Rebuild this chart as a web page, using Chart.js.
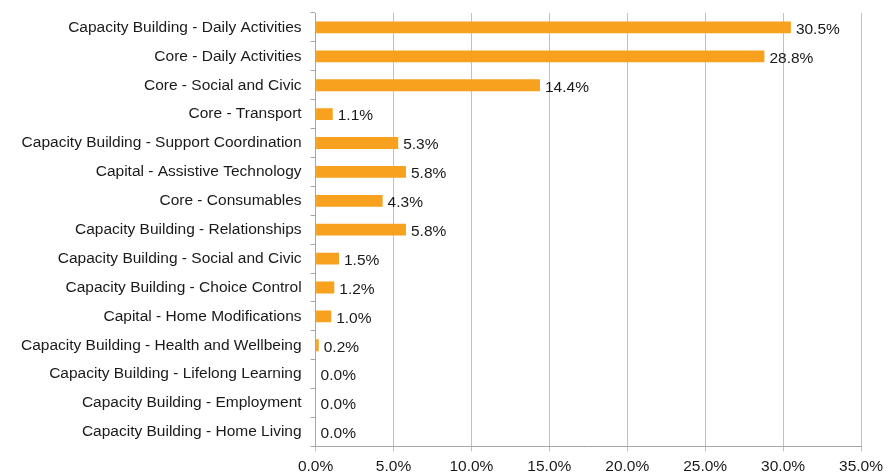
<!DOCTYPE html>
<html>
<head>
<meta charset="utf-8">
<script src="https://cdn.jsdelivr.net/npm/chart.js@4"></script>
<style>
  html, body { margin: 0; padding: 0; background: #fff; }
  #wrap { width: 893px; height: 474px; position: relative; }
</style>
</head>
<body>
<div id="wrap"><canvas id="chart"></canvas></div>
<script>
const categories = [
    "Capacity Building - Daily Activities",
    "Core - Daily Activities",
    "Core - Social and Civic",
    "Core - Transport",
    "Capacity Building - Support Coordination",
    "Capital - Assistive Technology",
    "Core - Consumables",
    "Capacity Building - Relationships",
    "Capacity Building - Social and Civic",
    "Capacity Building - Choice Control",
    "Capital - Home Modifications",
    "Capacity Building - Health and Wellbeing",
    "Capacity Building - Lifelong Learning",
    "Capacity Building - Employment",
    "Capacity Building - Home Living"
];
const shares = [30.5, 28.8, 14.4, 1.1, 5.3, 5.8, 4.3, 5.8, 1.5, 1.2, 1.0, 0.2, 0.0, 0.0, 0.0];
const xTicks = [0, 5, 10, 15, 20, 25, 30, 35];

const FONT = "Arial, \"Liberation Sans\", Helvetica, sans-serif";
const FONT_SIZE = 15.5;

// labels at the end of each bar
const valueLabels = {
    id: "valueLabels",
    afterDatasetsDraw(chart) {
        const ctx = chart.ctx;
        const meta = chart.getDatasetMeta(0);
        ctx.save();
        ctx.font = FONT_SIZE + "px " + FONT;
        ctx.fillStyle = "#1a1a1a";
        ctx.textBaseline = "middle";
        ctx.textAlign = "left";
        meta.data.forEach((bar, i) => {
            ctx.fillText(shares[i].toFixed(1) + "%", bar.x + 5, bar.y + 2);
        });
        ctx.restore();
    }
};

Chart.defaults.font.family = FONT;

new Chart(document.getElementById("chart"), {
    type: "bar",
    data: {
        labels: categories,
        datasets: [{
            data: shares,
            backgroundColor: "#F7A11E",
            borderWidth: 0,
            barPercentage: 0.41,
            categoryPercentage: 1.0
        }]
    },
    options: {
        indexAxis: "y",
        responsive: true,
        maintainAspectRatio: false,
        animation: false,
        layout: { padding: { top: 13, right: 32, bottom: -8, left: 12 } },
        plugins: {
            legend: { display: false },
            tooltip: { enabled: false }
        },
        scales: {
            x: {
                min: 0,
                max: 35,
                afterBuildTicks: (axis) => { axis.ticks = xTicks.map(v => ({ value: v })); },
                ticks: {
                    callback: (v) => v.toFixed(1) + "%",
                    color: "#1a1a1a",
                    font: { family: FONT, size: FONT_SIZE },
                    padding: 6,
                    maxRotation: 0
                },
                grid: { color: "#c0c0c0", tickLength: 5, lineWidth: 1 },
                border: { color: "#a6a6a6" }
            },
            y: {
                // labels sit between category lines, no extra room needed above/below
                afterFit: (axis) => { axis.paddingTop = 0; axis.paddingBottom = 0; },
                ticks: {
                    color: "#1a1a1a",
                    font: { family: FONT, size: FONT_SIZE },
                    padding: 9
                },
                grid: { drawOnChartArea: false, offset: true, tickLength: 5, color: "#a6a6a6" },
                border: { color: "#a6a6a6" }
            }
        }
    },
    plugins: [valueLabels]
});
</script>
</body>
</html>
